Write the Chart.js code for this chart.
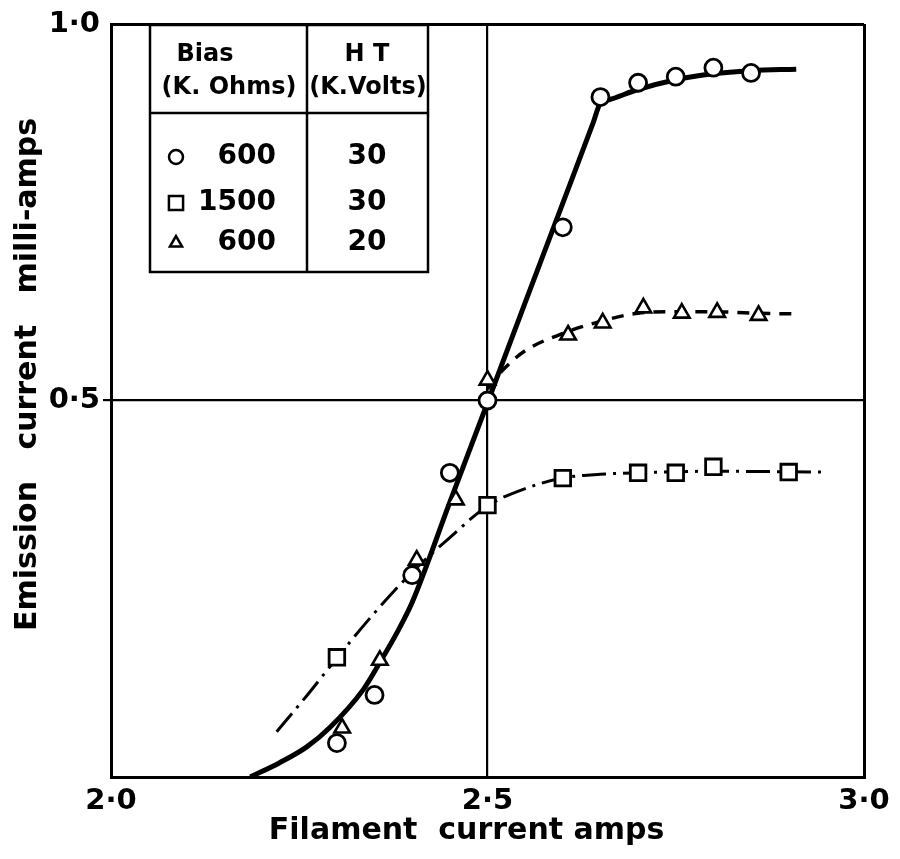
<!DOCTYPE html>
<html>
<head>
<meta charset="utf-8">
<script src="https://cdn.jsdelivr.net/npm/chart.js@4.4.0/dist/chart.umd.min.js"></script>
<style>
  html, body { margin: 0; padding: 0; background: #fff; }
</style>
</head>
<body>
<canvas id="firstChart" width="900" height="859"></canvas>
<script>
// measured points: filament current (amps) vs emission current (milli-amps)
const circX = [2.30, 2.35, 2.40, 2.45, 2.50, 2.60, 2.65, 2.70, 2.75, 2.80, 2.85];
const circY = [0.045, 0.109, 0.268, 0.404, 0.500, 0.730, 0.903, 0.922, 0.930, 0.942, 0.935];
const sqX = [2.30, 2.50, 2.60, 2.70, 2.75, 2.80, 2.90];
const sqY = [0.159, 0.361, 0.397, 0.404, 0.404, 0.412, 0.405];
const triX = [2.307, 2.357, 2.406, 2.458, 2.50, 2.607, 2.653, 2.707, 2.758, 2.805, 2.86];
const triY = [0.065, 0.155, 0.288, 0.368, 0.527, 0.587, 0.603, 0.623, 0.616, 0.617, 0.613];

// hand drawn curves
const fit600X = [2.185, 2.224, 2.26, 2.291, 2.335, 2.357, 2.38, 2.40, 2.45, 2.50, 2.55, 2.60, 2.64, 2.65, 2.66, 2.70, 2.75, 2.80, 2.85, 2.91];
const fit600Y = [0.0, 0.019, 0.040, 0.066, 0.116, 0.152, 0.192, 0.232, 0.365, 0.497, 0.630, 0.762, 0.868, 0.895, 0.899, 0.913, 0.926, 0.934, 0.938, 0.940];
const fit20X = [2.50, 2.52, 2.55, 2.60, 2.65, 2.70, 2.75, 2.80, 2.85, 2.91];
const fit20Y = [0.515, 0.540, 0.566, 0.589, 0.605, 0.616, 0.618, 0.618, 0.616, 0.615];
const fit1500X = [2.22, 2.26, 2.30, 2.35, 2.40, 2.45, 2.50, 2.55, 2.60, 2.65, 2.70, 2.80, 2.95];
const fit1500Y = [0.060, 0.108, 0.158, 0.218, 0.272, 0.318, 0.360, 0.383, 0.397, 0.402, 0.404, 0.406, 0.405];

// axes
const xTicks = [2.0, 2.5, 3.0];
const xTickLabels = ['2·0', '2·5', '3·0'];
const yTicks = [0.0, 0.5, 1.0];
const yTickLabels = ['', '0·5', '1·0'];

// key table
const keyHead = [['Bias', '(K. Ohms)'], ['H T', '(K.Volts)']];
const keyStyles = ['circle', 'rect', 'triangle'];
const keyBias = ['600', '1500', '600'];
const keyHT = ['30', '30', '20'];

function pts(xs, ys) {
    return xs.map(function (x, i) { return { x: x, y: ys[i] }; });
}

const FONT = "'DejaVu Sans', 'Liberation Sans', sans-serif";

const keyTable = {
    id: 'keyTable',
    afterDraw: function (chart) {
        const ctx = chart.ctx;
        const L = 150, M = 307, R = 428, T = 25, H = 113, B = 272;
        ctx.save();
        ctx.fillStyle = '#fff';
        ctx.fillRect(L, T, R - L, B - T);
        ctx.strokeStyle = '#000';
        ctx.lineWidth = 2.5;
        ctx.strokeRect(L, T, R - L, B - T);
        ctx.beginPath();
        ctx.moveTo(M, T); ctx.lineTo(M, B);
        ctx.moveTo(L, H); ctx.lineTo(R, H);
        ctx.stroke();

        ctx.fillStyle = '#000';
        ctx.textBaseline = 'middle';
        ctx.textAlign = 'center';
        ctx.font = 'bold 24px ' + FONT;
        ctx.fillText(keyHead[0][0], 205, 55);
        ctx.fillText(keyHead[0][1], 229, 88);
        ctx.fillText(keyHead[1][0], 367, 55);
        ctx.fillText(keyHead[1][1], 368, 88);

        const rowY = [157, 203, 243];
        const radius = { circle: 7, rect: 10, triangle: 7 };
        ctx.font = 'bold 28px ' + FONT;
        for (let i = 0; i < keyBias.length; i++) {
            ctx.fillStyle = '#fff';
            ctx.strokeStyle = '#000';
            ctx.lineWidth = 2.5;
            Chart.helpers.drawPoint(ctx, {
                pointStyle: keyStyles[i], radius: radius[keyStyles[i]],
                borderWidth: 2.5, rotation: 0
            }, 176, rowY[i]);
            ctx.fillStyle = '#000';
            ctx.textAlign = 'right';
            ctx.fillText(keyBias[i], 276, rowY[i]);
            ctx.textAlign = 'center';
            ctx.fillText(keyHT[i], 367, rowY[i]);
        }
        ctx.restore();
    }
};

const Chart1 = document.getElementById('firstChart').getContext('2d');

const firstChart = new Chart(Chart1, {
    type: 'scatter',
    data: {
        datasets: [{
            label: '600 / 30',
            data: pts(circX, circY),
            pointStyle: 'circle',
            pointRadius: 8.5,
            pointBorderWidth: 2.8,
            pointBackgroundColor: '#fff',
            pointBorderColor: '#000',
            order: 0
        },
        {
            label: '1500 / 30',
            data: pts(sqX, sqY),
            pointStyle: 'rect',
            pointRadius: 11,
            pointBorderWidth: 2.8,
            pointBackgroundColor: '#fff',
            pointBorderColor: '#000',
            order: 0
        },
        {
            label: '600 / 20',
            data: pts(triX, triY),
            pointStyle: 'triangle',
            pointRadius: 9,
            pointBorderWidth: 2.6,
            pointBackgroundColor: '#fff',
            pointBorderColor: '#000',
            order: 0
        },
        {
            label: 'fit 600 / 30',
            data: pts(fit600X, fit600Y),
            showLine: true,
            pointRadius: 0,
            borderColor: '#000',
            borderWidth: 5,
            cubicInterpolationMode: 'monotone',
            order: 1
        },
        {
            label: 'fit 600 / 20',
            data: pts(fit20X, fit20Y),
            showLine: true,
            pointRadius: 0,
            borderColor: '#000',
            borderWidth: 3.5,
            borderDash: [12, 9],
            cubicInterpolationMode: 'monotone',
            order: 1
        },
        {
            label: 'fit 1500 / 30',
            data: pts(fit1500X, fit1500Y),
            showLine: true,
            pointRadius: 0,
            borderColor: '#000',
            borderWidth: 3,
            borderDash: [24, 7, 3, 7],
            cubicInterpolationMode: 'monotone',
            order: 1
        }]
    },
    options: {
        responsive: false,
        animation: false,
        devicePixelRatio: 1,
        layout: { padding: { top: 24, right: 36, bottom: 0, left: 0 } },
        plugins: {
            legend: { display: false },
            tooltip: { enabled: false }
        },
        scales: {
            x: {
                type: 'linear',
                min: 2, max: 3,
                afterBuildTicks: function (s) { s.ticks = xTicks.map(function (v) { return { value: v }; }); },
                afterFit: function (s) { s.height = 82; s.paddingLeft = 0; s.paddingRight = 0; },
                ticks: {
                    color: '#000',
                    padding: 7,
                    maxRotation: 0,
                    font: { family: FONT, size: 29, weight: 'bold' },
                    callback: function (v) { return xTickLabels[xTicks.indexOf(v)]; }
                },
                grid: {
                    color: '#000',
                    lineWidth: function (c) { return c.tick && c.tick.value === 2.5 ? 2.2 : 3; },
                    drawTicks: false
                },
                border: { display: true, color: '#000', width: 3 },
                title: {
                    display: true,
                    text: 'Filament  current amps    ',
                    color: '#000',
                    font: { family: FONT, size: 30, weight: 'bold' },
                    padding: { top: 0, bottom: 10 }
                }
            },
            y: {
                type: 'linear',
                min: 0, max: 1,
                afterBuildTicks: function (s) { s.ticks = yTicks.map(function (v) { return { value: v }; }); },
                afterFit: function (s) { s.width = 111; },
                ticks: {
                    color: '#000',
                    padding: 3,
                    font: { family: FONT, size: 29, weight: 'bold' },
                    callback: function (v) { return yTickLabels[yTicks.indexOf(v)]; }
                },
                grid: {
                    color: '#000',
                    lineWidth: function (c) { return c.tick && c.tick.value === 0.5 ? 2.2 : 3; },
                    tickColor: function (c) { return c.tick && c.tick.value === 0.5 ? '#000' : 'rgba(0,0,0,0)'; },
                    tickLength: 8
                },
                border: { display: true, color: '#000', width: 3 },
                title: {
                    display: true,
                    text: '     Emission   current   milli-amps',
                    color: '#000',
                    font: { family: FONT, size: 30, weight: 'bold' },
                    padding: { top: 10, bottom: 0 }
                }
            }
        }
    },
    plugins: [keyTable]
});
</script>
</body>
</html>
